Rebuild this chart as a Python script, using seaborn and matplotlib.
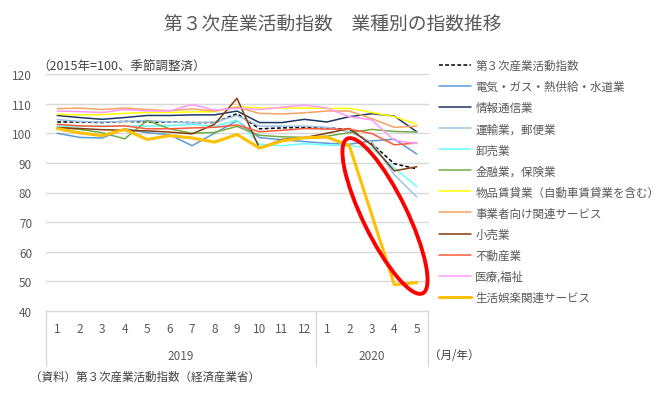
import matplotlib
matplotlib.use("Agg")
import matplotlib.pyplot as plt
from matplotlib.lines import Line2D
from matplotlib.patches import Ellipse
import seaborn as sns
import pandas as pd

sns.set_theme(style="white")
plt.rcParams['font.family'] = ['Noto Sans CJK JP', 'DejaVu Sans']

months = ["1", "2", "3", "4", "5", "6", "7", "8", "9", "10", "11", "12", "1", "2", "3", "4", "5"]
years = ["2019", "2020"]
year_counts = [12, 5]

series_names = [
    "第３次産業活動指数",
    "電気・ガス・熱供給・水道業",
    "情報通信業",
    "運輸業，郵便業",
    "卸売業",
    "金融業，保険業",
    "物品賃貸業（自動車賃貸業を含む）",
    "事業者向け関連サービス",
    "小売業",
    "不動産業",
    "医療,福祉",
    "生活娯楽関連サービス",
]

idx_total = [103.8, 103.8, 103.6, 104.0, 103.8, 103.8, 103.6, 103.6, 106.6, 101.5, 101.8, 102.0, 101.8, 101.3, 96.5, 89.7, 88.0]
idx_energy = [100.0, 98.6, 98.4, 101.5, 100.2, 99.5, 95.8, 100.0, 104.2, 98.5, 97.8, 97.2, 96.6, 96.3, 97.4, 98.0, 93.0]
idx_info = [106.0, 105.3, 104.7, 105.3, 106.0, 106.0, 106.2, 106.2, 107.5, 103.6, 103.6, 104.7, 103.8, 105.6, 106.6, 105.8, 100.5]
idx_transport = [104.6, 104.0, 103.8, 104.0, 104.3, 103.8, 103.5, 103.8, 106.0, 102.4, 102.4, 102.4, 102.0, 100.5, 97.0, 86.0, 78.5]
idx_wholesale = [102.5, 102.3, 102.5, 102.5, 102.4, 102.6, 103.0, 102.3, 104.4, 96.3, 95.8, 96.5, 96.0, 95.8, 95.0, 88.3, 82.0]
idx_finance = [102.0, 101.3, 100.2, 98.1, 104.3, 101.5, 100.0, 100.3, 102.3, 99.3, 98.8, 98.6, 99.0, 100.2, 101.3, 100.6, 100.4]
idx_rental = [106.4, 106.2, 106.3, 106.7, 107.0, 107.0, 107.2, 107.3, 109.0, 108.5, 108.5, 108.5, 108.4, 108.4, 107.0, 105.6, 103.0]
idx_business = [108.3, 108.5, 108.0, 108.5, 108.0, 107.6, 108.2, 107.5, 108.8, 106.7, 106.5, 106.9, 107.5, 107.5, 104.9, 102.0, 102.4]
idx_retail = [101.9, 101.6, 101.2, 101.0, 100.8, 100.4, 99.8, 103.0, 111.8, 94.9, 97.9, 98.5, 100.0, 101.6, 96.0, 87.3, 88.7]
idx_realestate = [103.0, 102.5, 102.3, 102.5, 101.5, 101.5, 101.8, 102.0, 102.8, 100.5, 101.0, 101.6, 101.4, 101.4, 99.9, 96.1, 96.7]
idx_medical = [107.5, 107.3, 107.0, 108.0, 107.5, 107.5, 109.7, 107.8, 108.5, 108.0, 108.8, 109.5, 108.5, 105.6, 104.5, 97.6, 96.5]
idx_leisure = [101.6, 100.1, 99.2, 101.3, 97.9, 99.2, 98.4, 97.0, 99.6, 95.0, 97.4, 98.5, 98.7, 95.8, 72.4, 48.9, 49.6]

all_values = [idx_total, idx_energy, idx_info, idx_transport, idx_wholesale, idx_finance,
              idx_rental, idx_business, idx_retail, idx_realestate, idx_medical, idx_leisure]

colors = ["#000000", "#5B9BD5", "#1F3864", "#9DC3E6", "#66FFFF", "#70AD47",
          "#FFFF00", "#F4A460", "#843C0C", "#FF5B3A", "#FF99FF", "#FFC000"]
widths = [1.1, 1.1, 1.1, 1.1, 1.1, 1.1, 1.1, 1.1, 1.1, 1.1, 1.1, 2.2]

rows = []
for name, vals in zip(series_names, all_values):
    for i, v in enumerate(vals):
        rows.append({"x": i, "value": v, "series": name})
df = pd.DataFrame(rows)

fig = plt.figure(figsize=(6.68, 4.14), dpi=100)
ax = fig.add_axes([46 / 668, (414 - 312) / 414, (428 - 46) / 668, (312 - 75) / 414])

palette = dict(zip(series_names, colors))
dashes = {n: "" for n in series_names}
dashes[series_names[0]] = (2.5, 1.5)
sizes = dict(zip(series_names, widths))

sns.lineplot(data=df, x="x", y="value", hue="series", hue_order=series_names,
             palette=palette, style="series", style_order=series_names, dashes=dashes,
             size="series", size_order=series_names, sizes=sizes,
             legend=False, ax=ax, sort=False)

ax.set_xlim(-0.5, len(months) - 0.5)
ax.set_ylim(40, 120)
ax.set_yticks(range(40, 121, 10))
ax.set_xticks(range(len(months)))
ax.set_xticklabels(months)
ax.set_xlabel("")
ax.set_ylabel("")
ax.tick_params(axis="both", length=0, labelsize=8.5, colors="#595959")
ax.tick_params(axis="y", pad=10)
ax.tick_params(axis="x", pad=8)
ax.yaxis.grid(True, color="#D9D9D9", linewidth=1)
ax.xaxis.grid(False)
for gl in ax.get_ygridlines():
    gl.set_clip_on(False)
for s in ax.spines.values():
    s.set_visible(False)

# category axis frame
box_depth = (367 - 312) / (312 - 75)
trans = ax.get_xaxis_transform()
start = -0.5
bounds = [start]
for c in year_counts:
    start += c
    bounds.append(start)
for b in bounds:
    ax.plot([b, b], [0, -box_depth], transform=trans, color="#D9D9D9", lw=1, clip_on=False)
for i, (yname, c) in enumerate(zip(years, year_counts)):
    center = (bounds[i] + bounds[i + 1]) / 2
    ax.text(center, -(357 - 312) / (312 - 75), yname, transform=trans, ha="center", va="center",
            fontsize=8.5, color="#595959")
ax.text(len(months) - 0.45, -(356 - 312) / (312 - 75), "（月/年）", transform=trans, ha="left",
        va="center", fontsize=8.3, color="#404040")

fig.text(37 / 668, 1 - 67 / 414, "（2015年=100、季節調整済）", ha="left", va="center",
         fontsize=9, color="#404040")

fig.text(333 / 668, 1 - 25 / 414, "第３次産業活動指数　業種別の指数推移", ha="center", va="center",
         fontsize=13.5, color="#595959")
fig.text(30 / 668, 1 - 377 / 414, "（資料）第３次産業活動指数（経済産業省）", ha="left", va="center",
         fontsize=8.3, color="#404040")

handles = []
for n, c, w in zip(series_names, colors, widths):
    ls = (0, (2.5, 1.5)) if n == series_names[0] else "-"
    handles.append(Line2D([0], [0], color=c, lw=w, linestyle=ls))
leg = fig.legend(handles, series_names, loc="upper left", bbox_to_anchor=(439 / 668, 1 - 60 / 414),
                 frameon=False, fontsize=8.3, handlelength=2.8, handletextpad=0.35,
                 labelspacing=0.7, borderaxespad=0, borderpad=0)
for t in leg.get_texts():
    t.set_color("#595959")

# red ellipse highlight (figure pixel coordinates)
ell = Ellipse((385, 414 - 217), 172, 44, angle=-64, transform=None, fill=False,
              edgecolor="#FF0000", lw=2.8, zorder=10)
fig.patches.append(ell)

fig.savefig("out.png", dpi=100)
